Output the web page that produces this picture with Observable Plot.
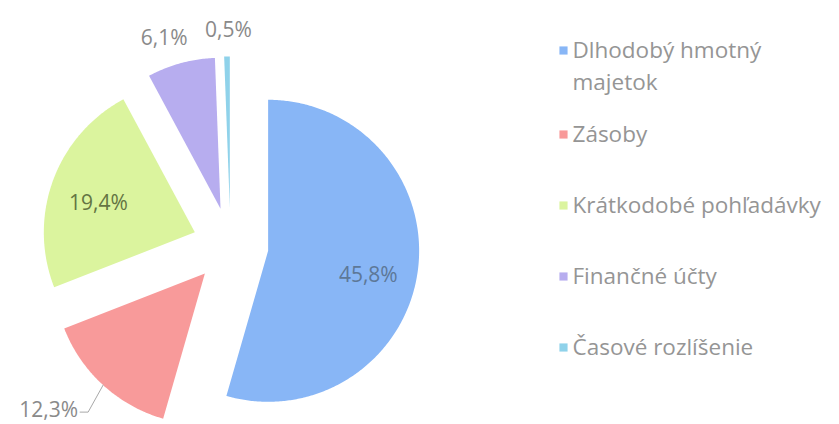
<!DOCTYPE html>
<html>
<head>
<meta charset="utf-8">
<script src="https://cdn.jsdelivr.net/npm/d3@7"></script>
<script src="https://cdn.jsdelivr.net/npm/@observablehq/plot@0.6"></script>
<style>
  html, body { margin: 0; padding: 0; background: #ffffff; }
  #chart { width: 839px; height: 424px; }
</style>
</head>
<body>
<div id="chart"></div>
<script>
// ---- data ----
const categories = ["Dlhodobý hmotný majetok", "Zásoby", "Krátkodobé pohľadávky", "Finančné účty", "Časové rozlíšenie"];
const values = [45.8, 12.3, 19.4, 6.1, 0.5];
const valueLabels = ["45,8%", "12,3%", "19,4%", "6,1%", "0,5%"];
const legendLines = [["Dlhodobý hmotný", "majetok"], ["Zásoby"], ["Krátkodobé pohľadávky"], ["Finančné účty"], ["Časové rozlíšenie"]];
const colors = ["#88b6f6", "#f89a9a", "#dbf49e", "#b7adef", "#8fd2ea"];

// ---- layout ----
const W = 839, H = 424;
const cx = 230, cy = 245, R = 151, explode = 38;
const labelColors = ["#5d7898", "#8a8a8a", "#647443", "#8a8a8a", "#8a8a8a"];
// label placement: radius factor from slice apex, plus pixel nudges
const labelPlace = [
  {rf: 0.67, dx: 0, dy: 10},
  {rf: 0, dx: 0, dy: 0},
  {rf: 0.68, dx: 0, dy: 6},
  {rf: 1.17, dx: -10, dy: 0},
  {rf: 1.16, dx: 2, dy: -2}
];

const arcs = d3.pie().sort(null).value(d => d)(values);

const pt = (ox, oy, r, a) => [ox + r * Math.sin(a), oy - r * Math.cos(a)];

const slicePts = [];
const labelRows = [];
arcs.forEach((a, i) => {
  const mid = (a.startAngle + a.endAngle) / 2;
  const [ax, ay] = pt(cx, cy, explode, mid);
  slicePts.push({cat: categories[i], x: ax, y: ay});
  const n = Math.max(2, Math.ceil((a.endAngle - a.startAngle) / 0.01));
  for (let k = 0; k <= n; k++) {
    const t = a.startAngle + (a.endAngle - a.startAngle) * k / n;
    const [x, y] = pt(ax, ay, R, t);
    slicePts.push({cat: categories[i], x, y});
  }
  slicePts.push({cat: categories[i], x: ax, y: ay});
  const p = labelPlace[i];
  const [lx, ly] = pt(ax, ay, R * p.rf, mid);
  labelRows.push({text: valueLabels[i], x: lx + p.dx, y: ly + p.dy, color: labelColors[i], i, ax, ay, mid});
});

// leader line for the Zásoby label
const r1 = labelRows[1];
const [sx, sy] = pt(r1.ax, r1.ay, R, r1.mid);
const leader = [
  {x: sx, y: sy},
  {x: sx - 15, y: sy + 27},
  {x: sx - 23, y: sy + 27}
];
const outerLabels = labelRows.filter(d => d.i !== 1);
const zLabel = [{text: valueLabels[1], x: sx - 25, y: sy + 25}];

// legend rows
const legendY0 = 50, legendLineH = 32, legendStep = 71, legendGap2 = 84;
const legendMarks = [];
const legendTexts = [];
categories.forEach((c, i) => {
  const y = i === 0 ? legendY0 : legendY0 + legendGap2 + (i - 1) * legendStep;
  legendMarks.push({cat: c, x: 563, y});
  legendLines[i].forEach((t, j) => legendTexts.push({text: t, x: 572, y: y + j * legendLineH}));
});

const chart = Plot.plot({
  width: W,
  height: H,
  margin: 0,
  x: {domain: [0, W], range: [0, W], axis: null},
  y: {domain: [0, H], range: [0, H], axis: null},
  color: {domain: categories, range: colors},
  style: {fontFamily: "'Open Sans', sans-serif", background: "#ffffff"},
  marks: [
    Plot.line(slicePts, {x: "x", y: "y", z: "cat", fill: "cat", stroke: "none", curve: "linear"}),
    Plot.text(outerLabels, {x: "x", y: "y", text: "text", fill: "color", fontSize: 21}),
    Plot.line(leader, {x: "x", y: "y", stroke: "#a8a8a8", strokeWidth: 1}),
    Plot.text(zLabel, {x: "x", y: "y", text: "text", fill: "#8a8a8a", fontSize: 21, textAnchor: "end"}),
    Plot.dot(legendMarks, {x: "x", y: "y", fill: "cat", symbol: "square", r: 4.6, stroke: "none"}),
    Plot.text(legendTexts, {x: "x", y: "y", text: "text", fill: "#959595", fontSize: 22.5, textAnchor: "start"})
  ]
});
document.getElementById("chart").appendChild(chart);
</script>
</body>
</html>
